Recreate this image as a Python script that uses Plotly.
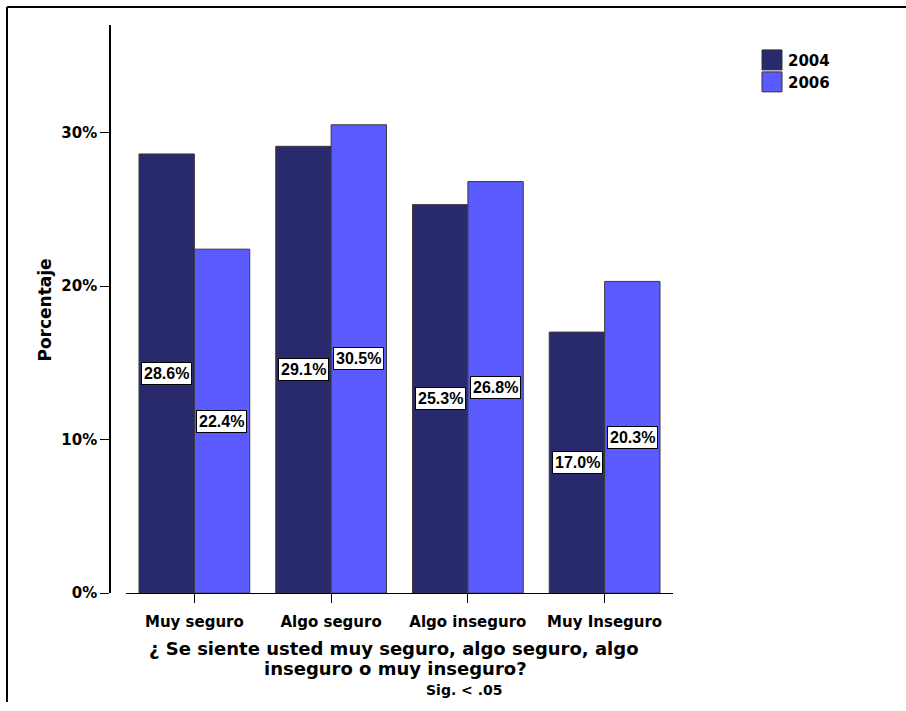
import plotly.graph_objects as go

categories = ["Muy seguro", "Algo seguro", "Algo inseguro", "Muy Inseguro"]
series_names = ["2004", "2006"]
values_2004 = [28.6, 29.1, 25.3, 17.0]
values_2006 = [22.4, 30.5, 26.8, 20.3]
colors = ["#29296e", "#5a5aff"]
y_ticks = [0, 10, 20, 30]

W, H = 906, 711
H_VIEW = 703  # effective vertical extent observed in the rendered page
def px(x):
    return x / W
def py(y):
    return 1 - y / H_VIEW

fig = go.Figure()
all_vals = [values_2004, values_2006]
for name, vals, col in zip(series_names, all_vals, colors):
    fig.add_trace(go.Bar(
        x=categories, y=vals, name=name,
        marker=dict(color=col, line=dict(color="#3a3a3a", width=1)),
        showlegend=False, hoverinfo="skip"))

font_a = "Liberation Sans"
font_d = "DejaVu Sans"
annotations = []
for i, (vals, shift) in enumerate(zip(all_vals, [-27.5, 27.5])):
    for c, v in zip(categories, vals):
        annotations.append(dict(
            x=c, y=v / 2, xref="x", yref="y", xshift=shift,
            text="<b>%.1f%%</b>" % v, showarrow=False,
            xanchor="center", yanchor="middle",
            font=dict(family=font_a, size=16, color="black"),
            bgcolor="white", bordercolor="black", borderwidth=1, borderpad=2))

# axis titles
annotations.append(dict(x=px(45), y=py(311), xref="paper", yref="paper",
                        xanchor="center", yanchor="middle",
                        text="<b>Porcentaje</b>", textangle=-90, showarrow=False,
                        font=dict(family=font_d, size=17, color="black")))
annotations.append(dict(x=px(394), y=py(649), xref="paper", yref="paper",
                        xanchor="center", yanchor="middle",
                        text="<b>¿ Se siente usted muy seguro, algo seguro, algo</b>",
                        showarrow=False,
                        font=dict(family=font_d, size=18, color="black")))
annotations.append(dict(x=px(395), y=py(669), xref="paper", yref="paper",
                        xanchor="center", yanchor="middle",
                        text="<b>inseguro o muy inseguro?</b>",
                        showarrow=False,
                        font=dict(family=font_d, size=18, color="black")))
annotations.append(dict(x=px(465), y=py(691), xref="paper", yref="paper",
                        xanchor="center", yanchor="middle",
                        text="<b>Sig. < .05</b>", showarrow=False,
                        font=dict(family=font_d, size=14, color="black")))

# custom legend
shapes = []
for k, (name, col) in enumerate(zip(series_names, colors)):
    top = 50 + k * 22
    shapes.append(dict(type="rect", xref="paper", yref="paper",
                       x0=px(762), x1=px(782), y0=py(top + 20), y1=py(top),
                       fillcolor=col, line=dict(color="#333", width=1)))
    annotations.append(dict(x=px(786), y=py(top + 11), xref="paper", yref="paper",
                            xanchor="left", yanchor="middle",
                            text="<b>%s</b>" % name, showarrow=False,
                            font=dict(family=font_d, size=15, color="black")))

# frame lines
shapes.append(dict(type="line", xref="paper", yref="paper",
                   x0=px(7), x1=1.0, y0=py(7), y1=py(7),
                   line=dict(color="black", width=2)))
shapes.append(dict(type="line", xref="paper", yref="paper",
                   x0=px(7), x1=px(7), y0=py(7), y1=0,
                   line=dict(color="black", width=2)))

fig.update_layout(
    width=W, height=H, autosize=False,
    margin=dict(l=0, r=0, t=0, b=0, pad=0),
    paper_bgcolor="white", plot_bgcolor="white",
    barmode="group", bargap=0.19, bargroupgap=0,
    xaxis=dict(domain=[px(126), px(673)], showline=True, linecolor="black",
               linewidth=1, ticks="outside", ticklen=9, tickcolor="black",
               tickfont=dict(family=font_d, size=15, color="black"),
               ticklabelstandoff=6, showgrid=False, zeroline=False,
               tickvals=categories, ticktext=["<b>%s</b>" % c for c in categories]),
    yaxis=dict(domain=[py(594), py(25)], anchor="free", position=px(110),
               range=[0, 37], showline=True, linecolor="black", linewidth=1.5,
               ticks="outside", ticklen=9, tickcolor="black",
               tickvals=y_ticks, ticktext=["<b>%d%%</b>" % t for t in y_ticks],
               tickfont=dict(family=font_d, size=15, color="black"),
               showgrid=False, zeroline=False),
    annotations=annotations, shapes=shapes,
)
fig.write_html("out.html",
               config={"displayModeBar": False, "responsive": False},
               post_script="document.body.style.margin='0';document.body.style.overflow='hidden';")
